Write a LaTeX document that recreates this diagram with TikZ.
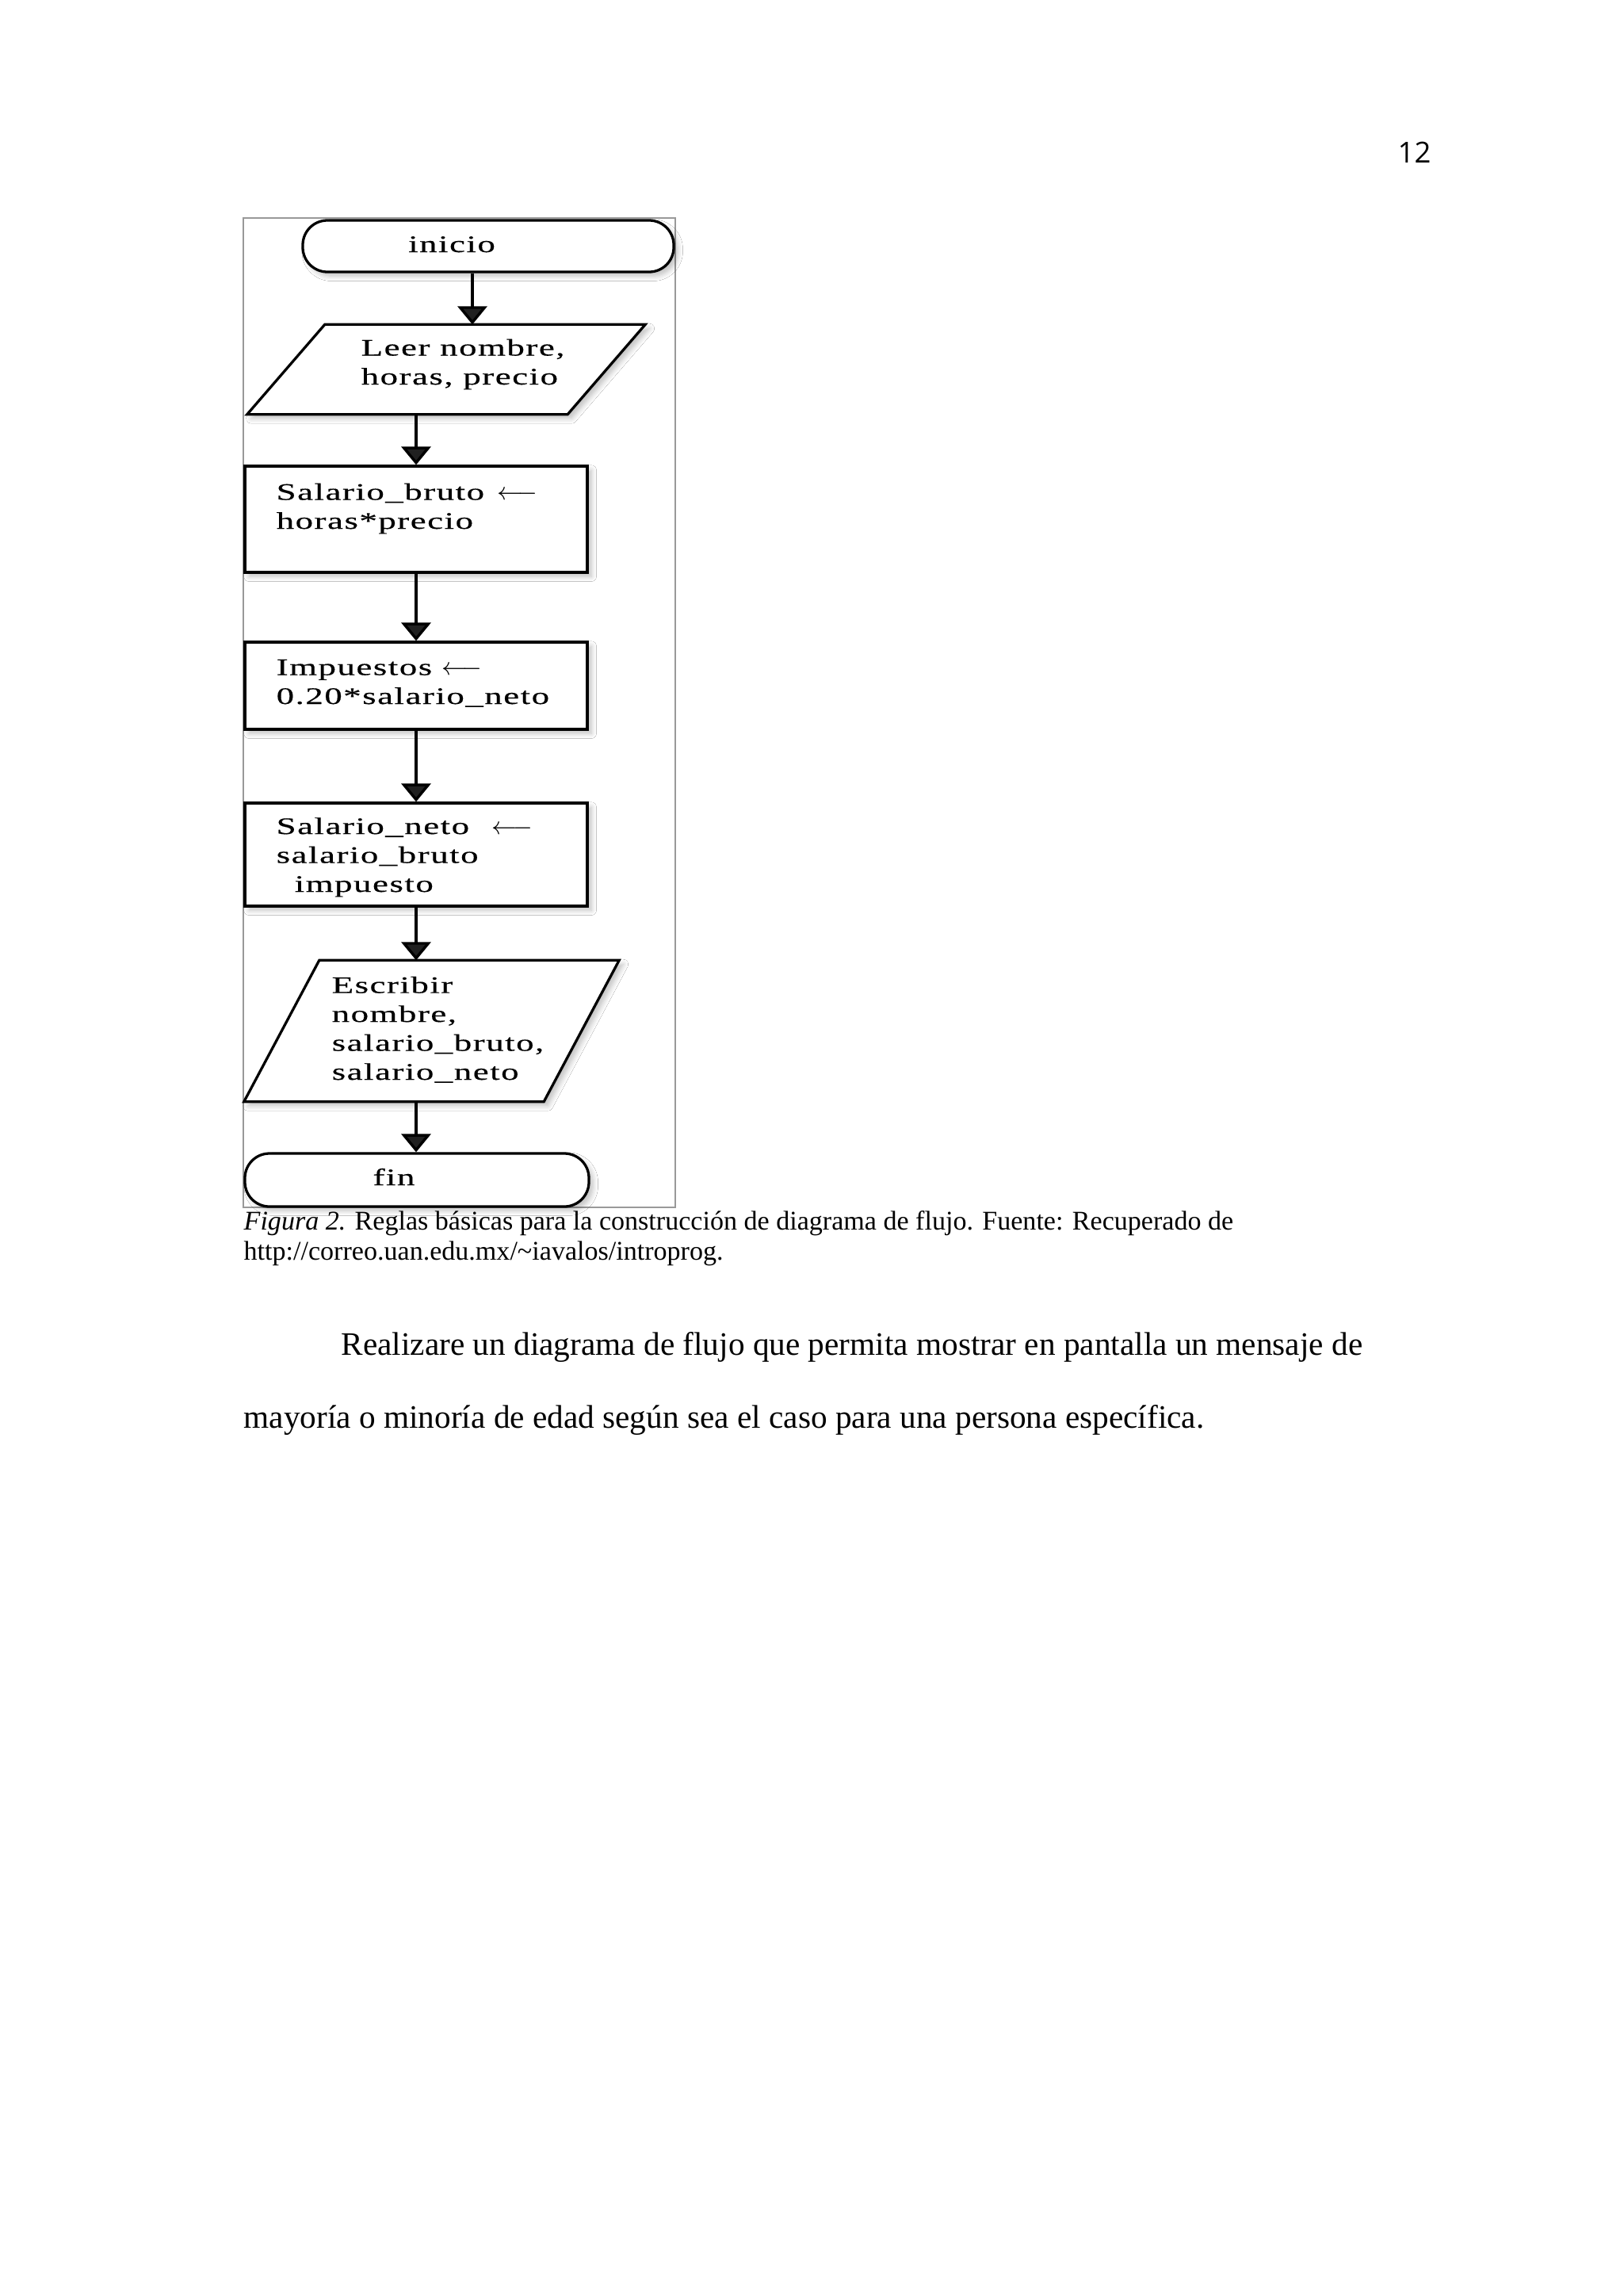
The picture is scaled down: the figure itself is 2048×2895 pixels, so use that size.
\documentclass[tikz,border=0pt]{standalone}
\usepackage{fontspec}
\setmainfont{Liberation Serif}
\newfontfamily\chartfont[FakeStretch=1.5,LetterSpace=5,FakeBold=0.4]{Liberation Serif}
\newfontfamily\pgnfont{Open Sans}
\usetikzlibrary{arrows.meta,shadows.blur}
\newcommand\pxl{0.29066pt}
\newcommand\asg{\hspace{1pt}$\longleftarrow$}
\begin{document}
\begin{tikzpicture}[x=0.29066pt,y=-0.29066pt,
  shapeline/.style={draw=black, line width=0.95pt},
  shad/.style={blur shadow={shadow xshift=1.5pt, shadow yshift=-1.5pt, shadow blur steps=6, shadow opacity=25}},
  terminal/.style={shapeline, rectangle, rounded corners=9pt, fill=white, shad, inner sep=0pt},
  procbox/.style={shapeline, rectangle, fill=white, shad, inner sep=0pt},
  iobox/.style={rectangle, inner sep=0pt, draw=none},
  ftext/.style={font=\chartfont\fontsize{8.7pt}{10.6pt}\selectfont, align=left, inner sep=0pt, anchor=base west},
  arr/.style={line width=1pt, -{Triangle[width=10.8pt,length=6.7pt]}},
  framebox/.style={draw=black!40, line width=0.4pt},
  bodytext/.style={font=\fontsize{12pt}{14pt}\selectfont, inner sep=0pt, anchor=base west},
  captext/.style={font=\fontsize{9.9pt}{12pt}\selectfont, inner sep=0pt, anchor=base west},
]
\useasboundingbox (0,0) rectangle (2048,2895);
\fill[white] (0,0) rectangle (2048,2895);

% page number
\node[font=\pgnfont\fontsize{10.6pt}{13pt}\selectfont, inner sep=0pt, anchor=base west] (pgnum) at (1763,205) {12};

% frame
\node[framebox, rectangle, inner sep=0pt, minimum width=545*\pxl, minimum height=1248*\pxl] (frame) at (579.5,899) {};

% shapes
\node[terminal, minimum width=468*\pxl, minimum height=65*\pxl] (inicio) at (616,310.5) {};
\node[iobox, minimum width=403*\pxl, minimum height=112*\pxl] (p1) at (563,466) {};
\draw[shapeline, fill=white, shad] ([xshift=49*\pxl]p1.north west) -- ([xshift=49*\pxl]p1.north east) -- ([xshift=-49*\pxl]p1.south east) -- ([xshift=-49*\pxl]p1.south west) -- cycle;
\node[procbox, minimum width=432*\pxl, minimum height=134*\pxl] (b1) at (525,655) {};
\node[procbox, minimum width=432*\pxl, minimum height=110*\pxl] (b2) at (525,865) {};
\node[procbox, minimum width=432*\pxl, minimum height=130*\pxl] (b3) at (525,1078) {};
\node[iobox, minimum width=377*\pxl, minimum height=177*\pxl] (p2) at (544.5,1300.5) {};
\draw[shapeline, fill=white, shad] ([xshift=47.5*\pxl]p2.north west) -- ([xshift=47.5*\pxl]p2.north east) -- ([xshift=-47.5*\pxl]p2.south east) -- ([xshift=-47.5*\pxl]p2.south west) -- cycle;
\node[terminal, minimum width=434*\pxl, minimum height=67*\pxl] (fin) at (526,1488.5) {};

% texts (anchored at the baseline of the last line)
\node[ftext, anchor=base] (tinicio) at (570,318) {inicio};
\node[ftext] (tp1) at (455,485) {Leer nombre,\\horas, precio};
\node[ftext] (tb1) at (348,667) {Salario\_bruto \asg\\horas*precio};
\node[ftext] (tb2) at (348,888) {Impuestos\hspace{2.5pt}\asg\\0.20*salario\_neto};
\node[ftext] (tb3) at (348,1125) {Salario\_neto \ \asg\\salario\_bruto\\\hspace*{6.7pt}impuesto};
\node[ftext] (tp2) at (418,1362) {Escribir\\nombre,\\salario\_bruto,\\salario\_neto};
\node[ftext, anchor=base] (tfin) at (497,1495) {fin};

% connectors
\coordinate (ax1) at (596,0);
\coordinate (ax2) at (525,0);
\draw[arr] (inicio.south -| ax1) -- (p1.north -| ax1);
\draw[arr] (p1.south -| ax2) -- (b1.north -| ax2);
\draw[arr] (b1.south -| ax2) -- (b2.north -| ax2);
\draw[arr] (b2.south -| ax2) -- (b3.north -| ax2);
\draw[arr] (b3.south -| ax2) -- (p2.north -| ax2);
\draw[arr] (p2.south -| ax2) -- (fin.north -| ax2);

% caption
\node[captext] (cap1) at (307,1551) {\textit{Figura 2.} Reglas básicas para la construcción de diagrama de flujo. Fuente: Recuperado de};
\node[captext] (cap2) at (307,1589) {http://correo.uan.edu.mx/\textasciitilde iavalos/introprog.};

% body text
\node[bodytext] (body1) at (430,1709) {Realizare un diagrama de flujo que permita mostrar en pantalla un mensaje de};
\node[bodytext] (body2) at (307,1801) {mayoría o minoría de edad según sea el caso para una persona específica.};
\end{tikzpicture}
\end{document}
